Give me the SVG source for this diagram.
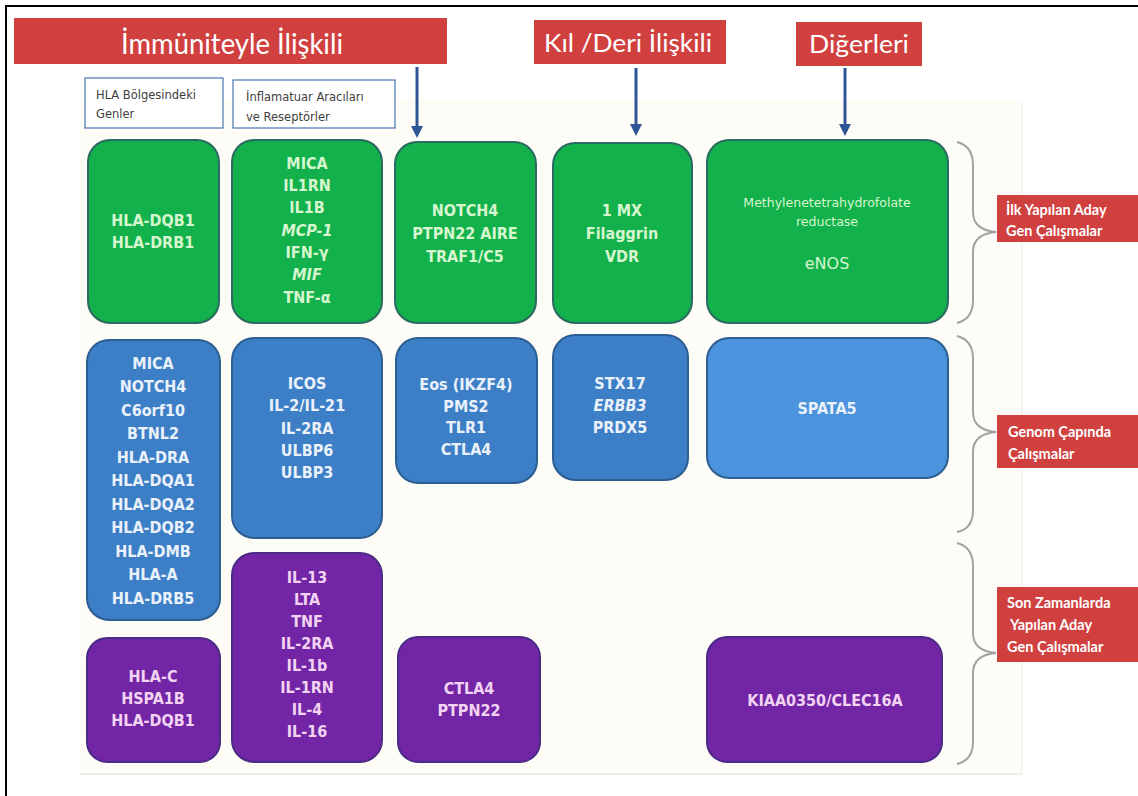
<svg xmlns="http://www.w3.org/2000/svg" width="1138" height="796" viewBox="0 0 1138 796">
<style>
.hdr{fill:#d0403f}
.hdrt{fill:#ffffff;font-family:Lato,"Open Sans",sans-serif;text-anchor:middle}
.lbl{fill:#ffffff;stroke:#4a74b4;stroke-width:1.2}
.lblt{fill:#404040;font-family:"DejaVu Sans",sans-serif;font-size:11.5px}
.g{fill:#12b14b;stroke:#2a6a60;stroke-width:2}
.b{fill:#3c7fc6;stroke:#2d5e92;stroke-width:2}
.b2{fill:#4b93dc;stroke:#2d5e92;stroke-width:2}
.p{fill:#7226a6;stroke:#4a2b86;stroke-width:2}
.t{font-family:"DejaVu Sans Condensed","DejaVu Sans",sans-serif;font-weight:bold;font-size:16px;text-anchor:middle}
.tg{fill:#d6f6cf}
.tb{fill:#eaf1fa}
.tp{fill:#f2d4f2}
.te{font-family:"DejaVu Sans",sans-serif;text-anchor:middle}
.rl{fill:#d0403f}
.rlt{fill:#ffffff;font-family:Lato,"Open Sans",sans-serif;font-size:14.5px;font-weight:bold}
.arr{stroke:#2f5597;stroke-width:3;fill:none}
.brace{stroke:#a3a3a3;stroke-width:2;fill:none}
</style>
<defs>
<marker id="ah" viewBox="0 0 10 10" refX="5" refY="5" markerWidth="4" markerHeight="4" orient="auto">
<path d="M0,0 L10,5 L0,10 z" fill="#2f5597"/>
</marker>
</defs>
<rect x="0" y="0" width="1138" height="796" fill="#ffffff"/>
<rect x="80" y="100" width="942" height="674" fill="#fdfcf6"/>
<line x1="80" y1="774" x2="1022" y2="774" stroke="#e6e6e6" stroke-width="1.5"/>
<line x1="1022" y1="100" x2="1022" y2="774" stroke="#ececec" stroke-width="1"/>
<rect x="6" y="6" width="1145" height="800" fill="none" stroke="#000000" stroke-width="2"/>

<g id="hdr-immun">
<rect class="hdr" x="14" y="18" width="433" height="46"/>
<text class="hdrt" x="232" y="54" font-size="28" textLength="222" lengthAdjust="spacingAndGlyphs">İmmüniteyle İlişkili</text>
</g>
<g id="hdr-kil">
<rect class="hdr" x="534" y="20" width="192" height="44"/>
<text class="hdrt" x="628" y="52" font-size="25" textLength="168" lengthAdjust="spacingAndGlyphs">Kıl /Deri İlişkili</text>
</g>
<g id="hdr-diger">
<rect class="hdr" x="796" y="22" width="126" height="44"/>
<text class="hdrt" x="859" y="53" font-size="25" textLength="100" lengthAdjust="spacingAndGlyphs">Diğerleri</text>
</g>

<g id="lbl-hla">
<rect class="lbl" x="85" y="78" width="138" height="50"/>
<text class="lblt" x="96" y="99">HLA Bölgesindeki</text>
<text class="lblt" x="96" y="118">Genler</text>
</g>
<g id="lbl-inf">
<rect class="lbl" x="233" y="80" width="162" height="48"/>
<text class="lblt" x="246" y="101">İnflamatuar Aracıları</text>
<text class="lblt" x="246" y="121">ve Reseptörler</text>
</g>

<g id="connectors">
<line class="arr" x1="417" y1="67" x2="417" y2="132" marker-end="url(#ah)"/>
<line class="arr" x1="636" y1="68" x2="636" y2="130" marker-end="url(#ah)"/>
<line class="arr" x1="845" y1="68" x2="845" y2="130" marker-end="url(#ah)"/>
<path class="brace" d="M957,142 Q973,146 973,165 L973,212 Q973,230 996,232 Q973,234 973,252 L973,300 Q973,319 957,323"/>
<path class="brace" d="M957,336 Q973,340 973,359 L973,412 Q973,430 996,432 Q973,434 973,452 L973,510 Q973,529 957,532"/>
<path class="brace" d="M957,543 Q973,547 973,566 L973,633 Q973,651 996,653 Q973,655 973,673 L973,742 Q973,760 957,764"/>
</g>

<g id="n-a">
<rect class="g" x="88" y="140" width="131" height="183" rx="22"/>
<text class="t tg" x="153"><tspan x="153" y="226">HLA-DQB1</tspan><tspan x="153" y="248">HLA-DRB1</tspan></text>
</g>
<g id="n-b">
<rect class="g" x="232" y="140" width="150" height="183" rx="22"/>
<text class="t tg" x="307"><tspan x="307" y="169">MICA</tspan><tspan x="307" y="191">IL1RN</tspan><tspan x="307" y="213">IL1B</tspan><tspan x="307" y="236" font-style="italic">MCP-1</tspan><tspan x="307" y="258">IFN-γ</tspan><tspan x="307" y="280" font-style="italic">MIF</tspan><tspan x="307" y="303">TNF-α</tspan></text>
</g>
<g id="n-c">
<rect class="g" x="395" y="142" width="141" height="181" rx="22"/>
<text class="t tg" x="465"><tspan x="465" y="216">NOTCH4</tspan><tspan x="465" y="239">PTPN22 AIRE</tspan><tspan x="465" y="262">TRAF1/C5</tspan></text>
</g>
<g id="n-d">
<rect class="g" x="553" y="143" width="139" height="180" rx="22"/>
<text class="t tg" x="622"><tspan x="622" y="216">1 MX</tspan><tspan x="622" y="239">Filaggrin</tspan><tspan x="622" y="262">VDR</tspan></text>
</g>
<g id="n-e">
<rect class="g" x="707" y="140" width="241" height="183" rx="22"/>
<text class="te tg" font-size="12.5" x="827" y="207">Methylenetetrahydrofolate</text>
<text class="te tg" font-size="12.5" x="827" y="226">reductase</text>
<text class="te tg" font-size="16" x="827" y="269">eNOS</text>
</g>

<g id="n-f">
<rect class="b" x="87" y="340" width="133" height="280" rx="22"/>
<text class="t tb" font-size="17"><tspan x="153" y="369">MICA</tspan><tspan x="153" y="392">NOTCH4</tspan><tspan x="153" y="416">C6orf10</tspan><tspan x="153" y="439">BTNL2</tspan><tspan x="153" y="463">HLA-DRA</tspan><tspan x="153" y="486">HLA-DQA1</tspan><tspan x="153" y="510">HLA-DQA2</tspan><tspan x="153" y="533">HLA-DQB2</tspan><tspan x="153" y="557">HLA-DMB</tspan><tspan x="153" y="580">HLA-A</tspan><tspan x="153" y="604">HLA-DRB5</tspan></text>
</g>
<g id="n-g">
<rect class="b" x="232" y="338" width="150" height="200" rx="22"/>
<text class="t tb"><tspan x="307" y="389">ICOS</tspan><tspan x="307" y="411">IL-2/IL-21</tspan><tspan x="307" y="434">IL-2RA</tspan><tspan x="307" y="456">ULBP6</tspan><tspan x="307" y="478">ULBP3</tspan></text>
</g>
<g id="n-h">
<rect class="b" x="396" y="338" width="141" height="145" rx="22"/>
<text class="t tb"><tspan x="466" y="390">Eos (IKZF4)</tspan><tspan x="466" y="412">PMS2</tspan><tspan x="466" y="433">TLR1</tspan><tspan x="466" y="455">CTLA4</tspan></text>
</g>
<g id="n-i">
<rect class="b" x="553" y="335" width="135" height="145" rx="22"/>
<text class="t tb"><tspan x="620" y="389">STX17</tspan><tspan x="620" y="411" font-style="italic">ERBB3</tspan><tspan x="620" y="433">PRDX5</tspan></text>
</g>
<g id="n-j">
<rect class="b2" x="707" y="338" width="241" height="140" rx="22"/>
<text class="t tb" x="827" y="414">SPATA5</text>
</g>

<g id="n-k">
<rect class="p" x="87" y="638" width="133" height="124" rx="20"/>
<text class="t tp"><tspan x="153" y="682">HLA-C</tspan><tspan x="153" y="704">HSPA1B</tspan><tspan x="153" y="726">HLA-DQB1</tspan></text>
</g>
<g id="n-l">
<rect class="p" x="232" y="553" width="150" height="209" rx="22"/>
<text class="t tp"><tspan x="307" y="583">IL-13</tspan><tspan x="307" y="605">LTA</tspan><tspan x="307" y="627">TNF</tspan><tspan x="307" y="649">IL-2RA</tspan><tspan x="307" y="671">IL-1b</tspan><tspan x="307" y="693">IL-1RN</tspan><tspan x="307" y="715">IL-4</tspan><tspan x="307" y="737">IL-16</tspan></text>
</g>
<g id="n-m">
<rect class="p" x="398" y="637" width="142" height="125" rx="20"/>
<text class="t tp"><tspan x="469" y="694">CTLA4</tspan><tspan x="469" y="716">PTPN22</tspan></text>
</g>
<g id="n-n">
<rect class="p" x="707" y="637" width="235" height="125" rx="20"/>
<text class="t tp" x="825" y="706">KIAA0350/CLEC16A</text>
</g>

<g id="lab-ilk">
<rect class="rl" x="997" y="195" width="141" height="47"/>
<text class="rlt"><tspan x="1006" y="215">İlk  Yapılan Aday</tspan><tspan x="1006" y="236">Gen Çalışmalar</tspan></text>
</g>
<g id="lab-genom">
<rect class="rl" x="997" y="415" width="141" height="53"/>
<text class="rlt"><tspan x="1008" y="437">Genom Çapında</tspan><tspan x="1008" y="459">Çalışmalar</tspan></text>
</g>
<g id="lab-son">
<rect class="rl" x="997" y="587" width="141" height="75"/>
<text class="rlt"><tspan x="1007" y="608">Son Zamanlarda</tspan><tspan x="1007" y="630"> Yapılan Aday</tspan><tspan x="1007" y="652">Gen Çalışmalar</tspan></text>
</g>
</svg>
